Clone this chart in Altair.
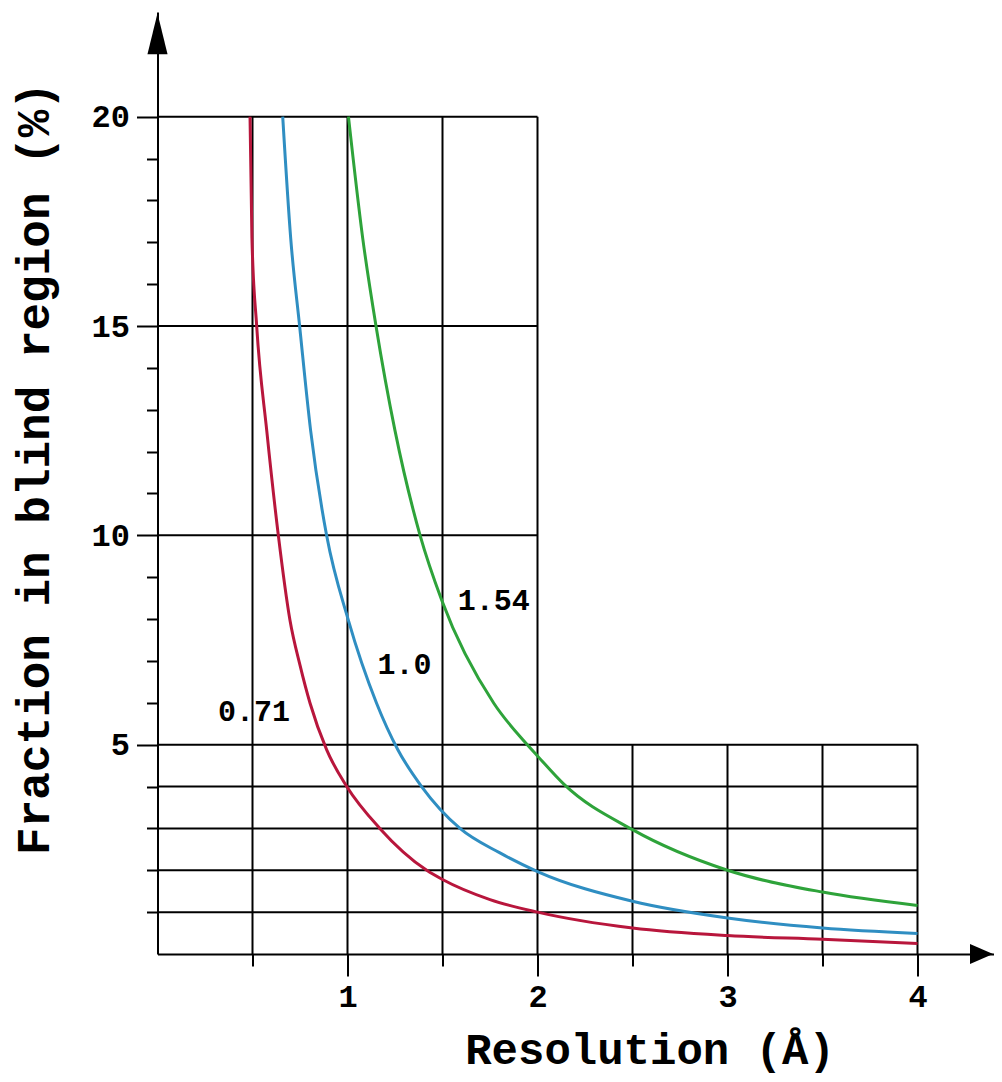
import altair as alt
import pandas as pd

# ---- data ----
red_x = [0.487, 0.497, 0.522, 0.575, 0.636, 0.697, 0.75, 0.803, 0.89, 0.996, 1.17, 1.417, 1.5, 1.75, 2.0, 2.5, 3.0, 3.5, 4.0]
red_y = [20.0, 17.1, 15.0, 12.5, 10.0, 7.98, 6.9, 5.99, 4.88, 4.0, 3.0, 2.0, 1.78, 1.3, 1.0, 0.62, 0.44, 0.35, 0.25]

blue_x = [0.659, 0.701, 0.748, 0.806, 0.89, 1.004, 1.153, 1.265, 1.39, 1.592, 1.8, 2.0, 2.5, 3.0, 3.5, 4.0]
blue_y = [20.0, 17.1, 15.0, 12.5, 10.0, 7.98, 5.99, 4.88, 4.0, 3.0, 2.42, 1.97, 1.26, 0.86, 0.62, 0.49]

green_x = [1.005, 1.08, 1.15, 1.25, 1.382, 1.496, 1.77, 1.93, 2.0, 2.14, 2.5, 3.0, 3.5, 4.0]
green_y = [20.0, 17.1, 15.0, 12.5, 10.0, 8.45, 5.99, 5.08, 4.73, 4.05, 2.97, 2.0, 1.48, 1.16]

series_names = ["0.71", "1.0", "1.54"]
series_colors = ["#b8163c", "#2f8ec2", "#2ea33a"]

label_x = [0.508, 1.30, 1.77]
label_y = [5.78, 6.9, 8.43]

x_ticks = [0.5, 1, 1.5, 2, 2.5, 3, 3.5, 4]
y_ticks = list(range(1, 21))

# grid segments (upper block to x=2, lower block to x=4)
h_upper = [10, 15, 20]
h_lower = [1, 2, 3, 4, 5]
v_upper = [0.5, 1, 1.5, 2]
v_lower = [2.5, 3, 3.5, 4]

FONT = "Courier, Courier New, Liberation Mono, monospace"

rows = []
for name, xs, ys in zip(series_names, [red_x, blue_x, green_x], [red_y, blue_y, green_y]):
    for i, (a, b) in enumerate(zip(xs, ys)):
        rows.append({"x": a, "y": b, "series": name, "i": i})
curves = pd.DataFrame(rows)

grid_rows = []
for v in h_upper:
    grid_rows.append({"x": 0, "x2": 2, "y": v, "y2": v})
for v in h_lower:
    grid_rows.append({"x": 0, "x2": 4, "y": v, "y2": v})
for v in v_upper:
    grid_rows.append({"x": v, "x2": v, "y": 0, "y2": 20})
for v in v_lower:
    grid_rows.append({"x": v, "x2": v, "y": 0, "y2": 5})
grid = pd.DataFrame(grid_rows)

labels = pd.DataFrame({"x": label_x, "y": label_y, "text": series_names})

x_scale = alt.Scale(domain=[0, 4.4], nice=False, zero=False)
y_scale = alt.Scale(domain=[0, 22.5], nice=False, zero=False)

x_axis = alt.Axis(
    values=x_ticks,
    labelExpr="datum.value % 1 === 0 ? format(datum.value, 'd') : ''",
    grid=False,
    domainColor="black", domainWidth=2,
    tickColor="black", tickWidth=2,
    tickSize={"condition": {"test": "datum.value % 1 === 0", "value": 22}, "value": 12},
    labelFont=FONT, labelFontSize=32, labelFontWeight="bold", labelColor="black",
    labelPadding=5, labelOverlap=False, labelFlush=False,
    titleFont=FONT, titleFontSize=44, titleFontWeight="bold", titleColor="black",
    titleX=492, titleY=109, titleAlign="center", titleBaseline="alphabetic",
)
y_axis = alt.Axis(
    values=y_ticks,
    labelExpr="datum.value % 5 === 0 ? format(datum.value, 'd') : ''",
    grid=False,
    domainColor="black", domainWidth=2,
    tickColor="black", tickWidth=2,
    tickSize={"condition": {"test": "datum.value % 5 === 0", "value": 21}, "value": 11},
    labelFont=FONT, labelFontSize=32, labelFontWeight="bold", labelColor="black",
    labelPadding=7, labelOverlap=False, labelFlush=False,
    titleFont=FONT, titleFontSize=46, titleFontWeight="bold", titleColor="black",
    titleX=-109, titleY=456, titleAngle=270, titleAlign="center", titleBaseline="alphabetic",
)

X = lambda f="x": alt.X(f"{f}:Q", scale=x_scale, axis=x_axis, title="Resolution (Å)")
Y = lambda f="y": alt.Y(f"{f}:Q", scale=y_scale, axis=y_axis, title="Fraction in blind region (%)")

grid_layer = alt.Chart(grid).mark_rule(color="black", strokeWidth=2).encode(
    x=X(), x2="x2:Q", y=Y(), y2="y2:Q"
)

curve_layer = alt.Chart(curves).mark_line(strokeWidth=3, interpolate="monotone").encode(
    x=X(), y=Y(),
    color=alt.Color("series:N", scale=alt.Scale(domain=series_names, range=series_colors), legend=None),
    order="i:Q",
)

text_layer = alt.Chart(labels).mark_text(
    font=FONT, fontSize=30, fontWeight="bold", color="black", align="center", baseline="middle"
).encode(x=X(), y=Y(), text="text:N")

arrow_up = alt.Chart(pd.DataFrame({"x": [0], "y": [21.98]})).mark_point(
    shape="M 0 -1 L 0.49 1 L -0.49 1 Z", size=1681, filled=True, color="black", opacity=1
).encode(x=X(), y=Y())

arrow_right = alt.Chart(pd.DataFrame({"x": [4.337], "y": [0]})).mark_point(
    shape="M 1 0 L -1 -0.87 L -1 0.87 Z", size=529, filled=True, color="black", opacity=1
).encode(x=X(), y=Y())

chart = alt.layer(grid_layer, curve_layer, text_layer, arrow_up, arrow_right).properties(
    width=836, height=942,
    padding={"left": 149.5, "top": 4, "right": 0, "bottom": 124},
    autosize=alt.AutoSizeParams(type="none"),
    background="white",
).configure_view(stroke=None)

chart.save("out.html", embed_options={"renderer": "svg", "actions": False})
